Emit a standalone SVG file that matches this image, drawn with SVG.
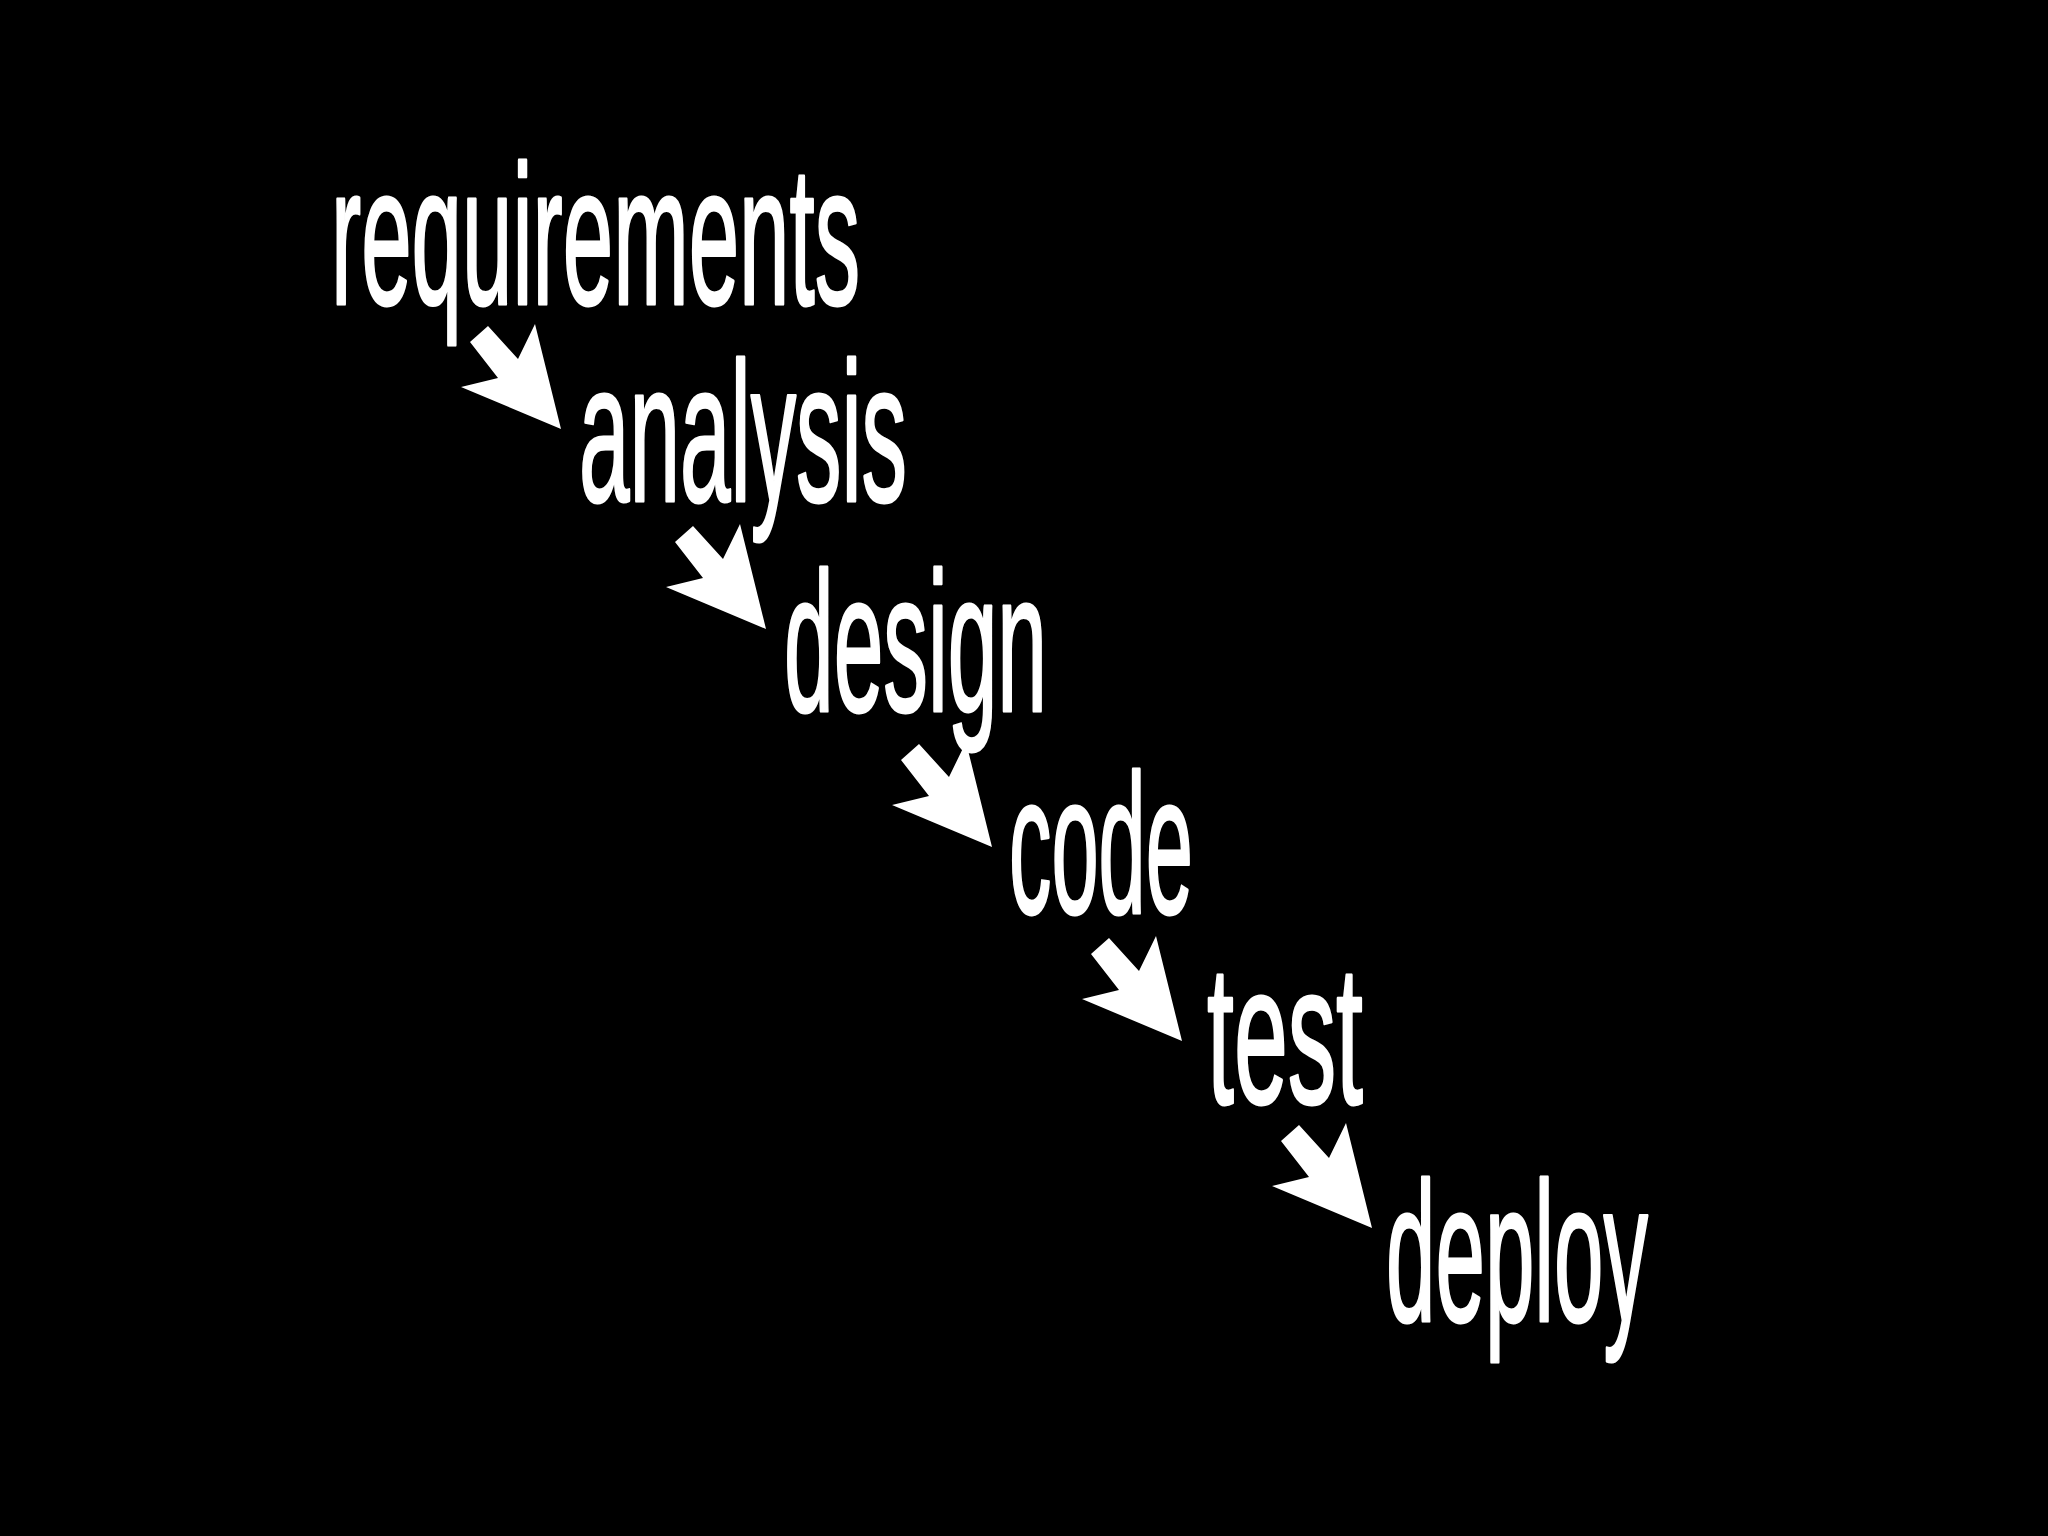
<svg xmlns="http://www.w3.org/2000/svg" xmlns:xlink="http://www.w3.org/1999/xlink" width="2048" height="1536" viewBox="0 0 2048 1536">
  <style>
    .lbl { font-family: "Liberation Sans", Arial, sans-serif; font-weight: normal; font-size: 198px; fill: #ffffff; stroke: #ffffff; stroke-width: 3; stroke-linejoin: round; }
    .arr { fill: #ffffff; stroke: none; }
  </style>
  <defs>
    <polygon id="arrow" class="arr" points="-91,-87 -73,-103 -43,-70 -26,-105 0,0 -100,-42 -63,-51"/>
  </defs>
  <rect x="0" y="0" width="2048" height="1536" fill="#000000"/>
  <g id="connectors">
    <use xlink:href="#arrow" href="#arrow" transform="translate(561,429)"/>
    <use xlink:href="#arrow" href="#arrow" transform="translate(766,629)"/>
    <use xlink:href="#arrow" href="#arrow" transform="translate(992,847)"/>
    <use xlink:href="#arrow" href="#arrow" transform="translate(1182,1041)"/>
    <use xlink:href="#arrow" href="#arrow" transform="translate(1372,1228)"/>
  </g>
  <g id="node-requirements">
    <text class="lbl" x="331" y="304" textLength="529" lengthAdjust="spacingAndGlyphs">requirements</text>
  </g>
  <g id="node-analysis">
    <text class="lbl" x="579" y="501" textLength="328" lengthAdjust="spacingAndGlyphs">analysis</text>
  </g>
  <g id="node-design">
    <text class="lbl" x="784" y="711" textLength="263" lengthAdjust="spacingAndGlyphs">design</text>
  </g>
  <g id="node-code">
    <text class="lbl" x="1009" y="913" textLength="184" lengthAdjust="spacingAndGlyphs">code</text>
  </g>
  <g id="node-test">
    <text class="lbl" x="1207" y="1103" textLength="156" lengthAdjust="spacingAndGlyphs">test</text>
  </g>
  <g id="node-deploy">
    <text class="lbl" x="1386" y="1321" textLength="262" lengthAdjust="spacingAndGlyphs">deploy</text>
  </g>
</svg>
